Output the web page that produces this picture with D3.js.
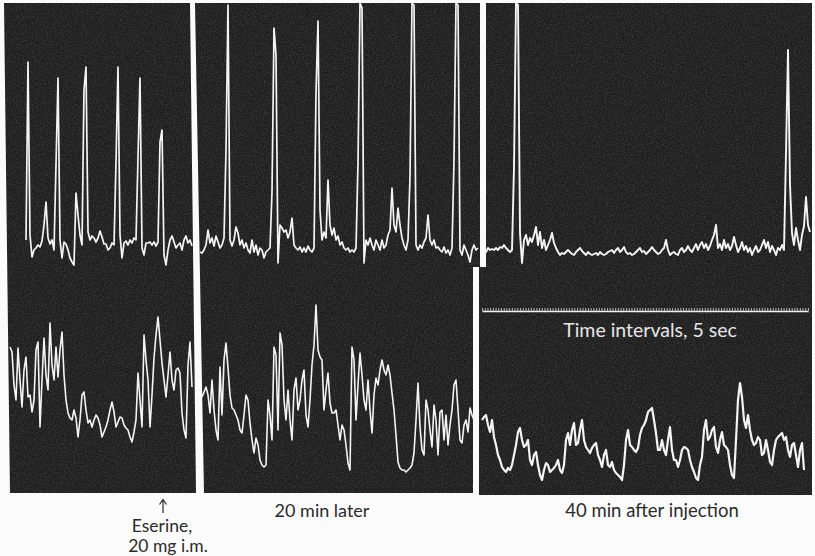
<!DOCTYPE html>
<html>
<head>
<meta charset="utf-8">
<script src="https://cdn.jsdelivr.net/npm/d3@7/dist/d3.min.js"></script>
<style>
  body { margin: 0; background: #fbfbfb; }
  svg { display: block; }
</style>
</head>
<body>
<script>
'use strict';

// upper trace deflection, one sample every 2 px of paper
const p1Top = [12,190,17,-5,2,4,7,5,11,27,50,14,8,12,2,87,174,12,-6,10,8,2,-6,-10,-13,59,37,17,7,162,
  185,20,12,16,14,10,14,21,15,8,8,2,4,9,7,90,185,17,-6,9,11,7,12,9,14,12,95,174,4,-3,
  9,9,10,7,10,6,10,110,122,-3,-13,2,12,16,10,4,7,9,2,12,16,9,12,6];

const p2Top = [0,-1,2,7,22,9,14,6,16,10,4,7,14,102,247,12,6,12,25,19,7,12,4,9,2,-1,12,0,7,-3,
  4,2,-6,0,2,4,60,224,197,-11,27,24,20,22,14,20,34,7,4,2,5,0,4,0,6,2,0,4,159,231,
  42,12,20,14,72,27,17,24,12,16,7,10,4,2,4,0,2,0,4,89,249,244,-11,12,7,14,7,2,12,7,
  2,12,4,7,17,22,64,27,20,44,27,14,7,2,12,75,249,247,7,2,7,4,10,14,37,12,7,12,4,5,
  2,0,5,-1,2,-3,4,92,249,247,2,-3,7,2,-3,-10,2,7,2,4];

const p3Top = [2,0,4,2,3,2,4,2,5,4,7,4,2,0,2,85,249,247,19,-11,12,17,7,14,10,17,25,7,20,4,
  12,2,7,12,19,9,4,0,-3,-1,-2,0,2,0,-2,-3,0,2,4,1,-1,-3,0,-2,-3,-2,-1,-3,0,-2,
  -3,-2,0,1,2,-1,2,4,0,2,5,0,-2,-1,-3,-2,0,2,4,0,1,-2,0,2,5,2,0,-2,-1,2,
  4,12,2,-3,-1,0,-2,-3,2,4,0,2,6,2,0,4,8,2,7,10,4,8,2,6,12,17,27,4,8,2,
  12,4,8,2,6,15,7,0,4,10,2,6,0,4,-3,2,6,0,2,7,12,4,10,0,6,2,-3,4,2,7,
  2,99,202,67,19,7,24,12,2,17,26,55,27,20];

// lower trace deflection, same sampling
const p1Bottom = [143,138,105,90,142,110,83,120,133,93,95,78,90,140,148,63,110,152,115,100,
  167,125,110,143,113,140,158,115,90,77,72,70,80,72,53,70,95,98,80,67,
  70,63,70,75,72,65,53,58,63,70,80,88,78,63,68,73,72,65,62,60,
  53,48,58,70,117,90,63,155,130,110,63,95,132,155,173,150,127,110,93,115,
  138,110,100,120,122,117,77,60,52,125,148,103];

const p2Bottom = [93,98,103,95,77,110,80,60,50,123,75,130,147,122,95,82,80,75,70,60,
  57,75,95,90,67,50,37,52,45,30,25,23,25,90,75,50,143,135,60,157,
  145,90,70,100,70,50,100,112,80,90,110,120,75,63,90,125,145,185,140,133,
  130,80,100,117,87,77,77,80,65,50,65,60,45,27,20,143,130,70,105,137,
  115,90,80,110,80,57,95,112,105,120,130,120,115,125,115,97,80,55,28,22,
  20,20,18,20,22,25,37,70,107,63,40,35,90,80,60,43,85,70,35,78,
  80,50,75,45,65,80,105,110,80,50,47,65,70,58,82,75,70,65];

const p3Bottom = [70,73,75,65,58,70,53,45,35,30,23,20,18,22,20,25,35,45,58,62,
  50,43,45,50,30,25,35,38,25,15,10,20,27,25,18,20,22,25,30,20,
  17,25,50,57,45,60,67,45,47,60,70,50,43,40,37,42,45,47,35,30,
  23,35,40,25,23,28,20,17,15,13,10,25,50,60,45,43,40,38,42,55,
  62,65,70,78,80,82,70,57,40,40,50,40,35,50,63,40,30,30,23,30,
  40,43,42,40,30,23,18,12,10,25,33,60,70,50,53,60,63,43,37,50,
  58,45,43,40,25,15,12,50,90,107,93,70,62,75,60,50,45,47,53,50,
  35,37,50,40,28,25,40,50,53,55,57,50,53,40,33,45,47,35,23,40,
  47,20];

// time marker, one tick every 5 sec
const timeSpan = [0, 600];
const timeStep = 5;

const timeNote = "Time intervals, 5 sec";
const captions = ["20 min later", "40 min after injection"];
const drugNote = ["Eserine,", "20 mg i.m."];

(function() {

  let svgContainer = "";
  let font = 'Lato, "Open Sans", sans-serif';

  window.onload = function() {
    svgContainer = d3.select('body')
      .append('svg')
      .attr('width', 815)
      .attr('height', 556);

    makePanels();

    let yTop = d3.scaleLinear().domain([0, 250]).range([252, 2]);
    let yBottom = d3.scaleLinear().domain([0, 200]).range([490, 290]);

    plotTrace(p1Top, 26, yTop, 1.7);
    plotTrace(p2Top, 200, yTop, 1.7);
    plotTrace(p3Top, 484, yTop, 1.9);
    plotTrace(p1Bottom, 10, yBottom, 1.6);
    plotTrace(p2Bottom, 202, yBottom, 1.6);
    plotTrace(p3Bottom, 482, yBottom, 2.2);

    drawTimeMarker();
    makeLabels();
  }

  function makePanels() {
    let outlines = [
      [[4, 3], [190, 3], [196, 493], [10, 493]],
      [[195, 3], [480, 3], [480, 267], [473, 267], [473, 493], [204, 493]],
      [[486, 3], [812, 3], [812, 495], [479, 495], [479, 267], [486, 267]]
    ];

    let defs = svgContainer.append('defs');
    let grain = defs.append('filter').attr('id', 'grain')
      .attr('x', 0).attr('y', 0).attr('width', 1).attr('height', 1);
    grain.append('feTurbulence')
      .attr('type', 'fractalNoise')
      .attr('baseFrequency', 0.9)
      .attr('numOctaves', 2)
      .attr('seed', 4);
    grain.append('feColorMatrix')
      .attr('type', 'matrix')
      .attr('values', '0 0 0 0 1  0 0 0 0 1  0 0 0 0 1  0 0 0 0.3 -0.11');
    grain.append('feComposite').attr('in2', 'SourceGraphic').attr('operator', 'in');

    let shape = d3.line().curve(d3.curveLinearClosed);

    svgContainer.selectAll('.panel')
      .data(outlines)
      .enter()
      .append('path')
        .attr('class', 'panel')
        .attr('d', shape)
        .attr('fill', '#1c1c1c');

    svgContainer.selectAll('.grain')
      .data(outlines)
      .enter()
      .append('path')
        .attr('class', 'grain')
        .attr('d', shape)
        .attr('fill', '#1c1c1c')
        .attr('filter', 'url(#grain)');
  }

  function plotTrace(values, xStart, yScale, width) {
    let xScale = d3.scaleLinear()
      .domain([0, values.length - 1])
      .range([xStart, xStart + 2 * (values.length - 1)]);

    let line = d3.line()
      .x((d, i) => xScale(i))
      .y((d) => yScale(d));

    svgContainer.append('path')
      .datum(values)
      .attr('d', line)
      .attr('fill', 'none')
      .attr('stroke', '#f4f4f4')
      .attr('stroke-width', width)
      .attr('stroke-linejoin', 'round');
  }

  function drawTimeMarker() {
    let tScale = d3.scaleLinear().domain(timeSpan).range([482, 808]);
    let marks = d3.range(timeSpan[0], timeSpan[1] + timeStep, timeStep);

    let tAxis = d3.axisTop(tScale)
      .tickValues(marks)
      .tickSize(3)
      .tickSizeOuter(0)
      .tickFormat('');

    let g = svgContainer.append('g')
      .attr('transform', 'translate(0, 311)')
      .call(tAxis);
    g.select('.domain').attr('stroke', '#eeeeee').attr('stroke-width', 1.6);
    g.selectAll('.tick line').attr('stroke', '#d8d8d8').attr('stroke-width', 0.8);

    svgContainer.append('text')
      .attr('x', 650)
      .attr('y', 337)
      .attr('text-anchor', 'middle')
      .style('font-family', font)
      .style('font-size', '19.5px')
      .attr('fill', '#e6e6e6')
      .text(timeNote);
  }

  function addLabel(x, y, size, text) {
    svgContainer.append('text')
      .attr('x', x)
      .attr('y', y)
      .attr('text-anchor', 'middle')
      .style('font-family', font)
      .style('font-size', size)
      .attr('fill', '#2b2b2b')
      .text(text);
  }

  function makeLabels() {
    addLabel(322, 517, '18px', captions[0]);
    addLabel(652, 517, '18.5px', captions[1]);

    svgContainer.append('path')
      .attr('d', 'M163,513 L163,500 M159.5,504.5 L163,499.5 L166.5,504.5')
      .attr('fill', 'none')
      .attr('stroke', '#2b2b2b')
      .attr('stroke-width', 1.2);

    addLabel(162, 532, '17.5px', drugNote[0]);
    addLabel(168, 552, '17.5px', drugNote[1]);
  }

})();
</script>
</body>
</html>
